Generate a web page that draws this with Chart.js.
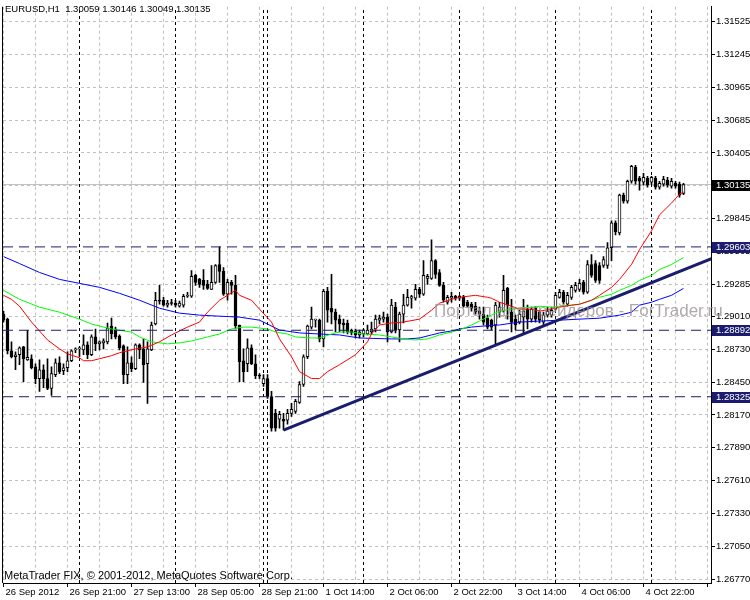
<!DOCTYPE html>
<html><head><meta charset="utf-8">
<script src="https://cdn.jsdelivr.net/npm/chart.js@4.4.0/dist/chart.umd.min.js"></script>
<style>html,body{margin:0;padding:0;background:#fff;overflow:hidden}canvas{display:block}</style>
</head><body><canvas id="c" width="750" height="600"></canvas>
<script>
const symbolTitle = 'EURUSD,H1  1.30059 1.30146 1.30049 1.30135';
const copyright = 'MetaTrader FIX, \u00a9 2001-2012, MetaQuotes Software Corp.';
const watermark = 'Портал для трейдеров - ForTrader.ru';
const timeLabels = ['26 Sep 2012','26 Sep 21:00','27 Sep 13:00','28 Sep 05:00','28 Sep 21:00','1 Oct 14:00','2 Oct 06:00','2 Oct 22:00','3 Oct 14:00','4 Oct 06:00','4 Oct 22:00'];
const priceTicks = [1.26770,1.27050,1.27330,1.27610,1.27890,1.28170,1.28450,1.28730,1.29010,1.29285,1.29565,1.29845,1.30125,1.30405,1.30685,1.30965,1.31245,1.31525];

const open = [1.29029,1.28987,1.28717,1.28666,1.28683,1.28750,1.28640,1.28649,1.28581,1.28480,1.28555,1.28480,1.28395,1.28514,1.28615,1.28547,1.28572,1.28632,1.28725,1.28733,
1.28725,1.28768,1.28683,1.28835,1.28776,1.28784,1.28793,1.28928,1.28903,1.28843,1.28759,1.28514,1.28615,1.28564,1.28768,1.28733,1.28606,1.28725,1.28945,1.29148,
1.29148,1.29106,1.29123,1.29123,1.29097,1.29106,1.29182,1.29182,1.29360,1.29326,1.29317,1.29283,1.29241,1.29300,1.29453,1.29394,1.29199,1.29300,1.29275,1.28937,
1.28632,1.28606,1.28742,1.28606,1.28505,1.28437,1.28480,1.28327,1.28183,1.28133,1.28133,1.28124,1.28183,1.28200,1.28277,1.28429,1.28666,1.28919,1.28978,1.28978,
1.28818,1.29224,1.29080,1.29046,1.28987,1.28954,1.28954,1.28894,1.28886,1.28852,1.28860,1.28860,1.28877,1.28903,1.28978,1.28987,1.29004,1.28877,1.29089,1.28894,
1.29029,1.29106,1.29165,1.29165,1.29241,1.29199,1.29334,1.29334,1.29486,1.29385,1.29275,1.29131,1.29165,1.29182,1.29165,1.29173,1.29131,1.29114,1.29097,1.29055,
1.29029,1.28995,1.28978,1.28937,1.29046,1.29055,1.29249,1.29046,1.28987,1.28962,1.29004,1.29072,1.28987,1.29080,1.29046,1.28962,1.29021,1.29021,1.29072,1.29173,
1.29216,1.29114,1.29173,1.29232,1.29241,1.29300,1.29216,1.29453,1.29461,1.29444,1.29444,1.29444,1.29596,1.29808,1.29723,1.30045,1.29994,1.30163,1.30281,1.30189,
1.30155,1.30189,1.30155,1.30189,1.30112,1.30138,1.30172,1.30121,1.30146,1.30138,1.30059];
const high = [1.29055,1.28995,1.28793,1.28708,1.28750,1.28755,1.28892,1.28683,1.28606,1.28640,1.28598,1.28649,1.28581,1.28649,1.28666,1.28606,1.28708,1.28725,1.28742,1.28750,
1.28852,1.28793,1.28852,1.28903,1.28801,1.28818,1.28954,1.28995,1.28919,1.28852,1.28768,1.28750,1.28666,1.28776,1.28776,1.28818,1.28793,1.28962,1.29216,1.29275,
1.29173,1.29148,1.29156,1.29148,1.29140,1.29199,1.29216,1.29402,1.29368,1.29334,1.29410,1.29317,1.29444,1.29453,1.29603,1.29427,1.29326,1.29317,1.29360,1.28937,
1.28733,1.28818,1.28768,1.28683,1.28522,1.28514,1.28514,1.28370,1.28217,1.28200,1.28183,1.28217,1.28268,1.28302,1.28454,1.28683,1.28937,1.29089,1.28987,1.28987,
1.29241,1.29258,1.29368,1.29072,1.29021,1.28987,1.28978,1.28903,1.28903,1.28894,1.28903,1.28937,1.28962,1.29021,1.29021,1.29046,1.29029,1.29156,1.29131,1.29046,
1.29199,1.29241,1.29190,1.29283,1.29258,1.29486,1.29368,1.29664,1.29495,1.29410,1.29300,1.29190,1.29216,1.29190,1.29190,1.29190,1.29148,1.29131,1.29131,1.29089,
1.29089,1.29021,1.28987,1.29131,1.29131,1.29360,1.29258,1.29156,1.29021,1.29063,1.29156,1.29106,1.29089,1.29097,1.29063,1.29046,1.29089,1.29089,1.29216,1.29241,
1.29232,1.29216,1.29275,1.29300,1.29326,1.29317,1.29486,1.29537,1.29486,1.29469,1.29520,1.29639,1.29825,1.29825,1.30054,1.30062,1.30172,1.30298,1.30298,1.30206,
1.30231,1.30206,1.30206,1.30206,1.30163,1.30206,1.30197,1.30189,1.30163,1.30155,1.30146];
const low = [1.28962,1.28691,1.28657,1.28555,1.28598,1.28454,1.28635,1.28563,1.28437,1.28370,1.28403,1.28386,1.28336,1.28496,1.28522,1.28514,1.28539,1.28623,1.28700,1.28666,
1.28683,1.28649,1.28675,1.28717,1.28725,1.28733,1.28776,1.28818,1.28818,1.28725,1.28437,1.28437,1.28539,1.28555,1.28649,1.28446,1.28268,1.28717,1.28937,1.29114,
1.29097,1.29089,1.29106,1.29089,1.29089,1.29089,1.29173,1.29173,1.29275,1.29258,1.29241,1.29241,1.29241,1.29292,1.29300,1.29190,1.29148,1.29199,1.28903,1.28454,
1.28454,1.28539,1.28598,1.28480,1.28480,1.28412,1.28310,1.28031,1.28031,1.28057,1.28040,1.28090,1.28158,1.28183,1.28268,1.28412,1.28649,1.28903,1.28919,1.28793,
1.28750,1.28962,1.28945,1.28877,1.28877,1.28869,1.28860,1.28852,1.28827,1.28827,1.28835,1.28852,1.28860,1.28877,1.28945,1.28962,1.28793,1.28869,1.28869,1.28793,
1.28954,1.29097,1.29080,1.29148,1.29173,1.29190,1.29283,1.29326,1.29334,1.29266,1.29131,1.29114,1.29131,1.29148,1.29148,1.29089,1.29089,1.29055,1.29029,1.28987,
1.28937,1.28903,1.28894,1.28768,1.29004,1.29046,1.28987,1.28877,1.28894,1.28945,1.28860,1.28903,1.28962,1.28962,1.28954,1.28937,1.29004,1.29004,1.29063,1.29165,
1.29114,1.29097,1.29156,1.29216,1.29224,1.29199,1.29207,1.29343,1.29300,1.29292,1.29427,1.29419,1.29486,1.29706,1.29706,1.29977,1.29977,1.30146,1.30138,1.30087,
1.30129,1.30112,1.30138,1.30095,1.30095,1.30121,1.30112,1.30104,1.30104,1.30028,1.30049];
const close = [1.28978,1.28717,1.28666,1.28683,1.28742,1.28649,1.28660,1.28572,1.28480,1.28555,1.28480,1.28395,1.28522,1.28615,1.28539,1.28572,1.28632,1.28717,1.28733,1.28738,
1.28768,1.28683,1.28835,1.28776,1.28793,1.28801,1.28911,1.28860,1.28835,1.28742,1.28514,1.28615,1.28564,1.28768,1.28725,1.28598,1.28733,1.28937,1.29148,1.29140,
1.29106,1.29123,1.29120,1.29106,1.29123,1.29182,1.29190,1.29351,1.29300,1.29283,1.29275,1.29249,1.29300,1.29444,1.29394,1.29199,1.29300,1.29275,1.28928,1.28623,
1.28539,1.28742,1.28606,1.28505,1.28500,1.28480,1.28327,1.28057,1.28057,1.28175,1.28116,1.28183,1.28217,1.28285,1.28429,1.28666,1.28928,1.28987,1.28982,1.28818,
1.29224,1.29063,1.29046,1.28978,1.28945,1.28937,1.28877,1.28869,1.28852,1.28877,1.28894,1.28894,1.28903,1.28987,1.28995,1.29004,1.28877,1.29106,1.28894,1.29029,
1.29106,1.29173,1.29180,1.29241,1.29199,1.29360,1.29351,1.29486,1.29368,1.29275,1.29148,1.29173,1.29182,1.29165,1.29182,1.29097,1.29097,1.29080,1.29046,1.29029,
1.28962,1.28919,1.28919,1.29106,1.29089,1.29232,1.29106,1.28962,1.28937,1.29029,1.29055,1.28987,1.29072,1.28987,1.28978,1.29021,1.29055,1.29063,1.29190,1.29216,
1.29131,1.29190,1.29258,1.29275,1.29292,1.29216,1.29453,1.29360,1.29317,1.29317,1.29495,1.29596,1.29808,1.29732,1.30045,1.29994,1.30163,1.30290,1.30163,1.30163,
1.30197,1.30129,1.30197,1.30112,1.30146,1.30180,1.30129,1.30163,1.30121,1.30045,1.30135];

const maRedBars = [0,2,4,7,9,11,14,16,19,20,22,24,27,29,33,36,39,42,46,49,51,54,58,59,62,64,67,69,72,74,77,79,81,84,88,91,92,94,97,100,104,107,109,112,114,118,121,122,124,127,129,132,134,137,139,142,144,147,149,152,154,157,159,162,164,167,169,170];
const maRedValues = [1.29190,1.29156,1.29097,1.28962,1.28886,1.28809,1.28733,1.28691,1.28657,1.28632,1.28632,1.28649,1.28675,1.28700,1.28733,1.28750,1.28793,1.28852,1.28919,1.28962,1.29046,1.29148,1.29232,1.29190,1.29148,1.29072,1.28962,1.28818,1.28666,1.28539,1.28480,1.28480,1.28539,1.28598,1.28683,1.28793,1.28860,1.28937,1.28954,1.28962,1.28987,1.29063,1.29123,1.29156,1.29173,1.29190,1.29173,1.29165,1.29131,1.29097,1.29072,1.29072,1.29055,1.29072,1.29089,1.29106,1.29114,1.29148,1.29190,1.29258,1.29326,1.29453,1.29580,1.29740,1.29876,1.29977,1.30053,1.30070];
const maGreenBars = [0,4,9,14,19,22,24,27,30,32,34,37,41,44,47,51,54,57,60,62,66,68,71,73,77,79,82,84,87,90,94,97,100,103,106,109,112,114,117,119,122,124,127,129,132,134,137,139,142,144,147,149,152,154,157,159,162,164,167,170];
const maGreenValues = [1.29233,1.29156,1.29089,1.29046,1.28987,1.28945,1.28928,1.28903,1.28886,1.28877,1.28835,1.28793,1.28776,1.28784,1.28801,1.28835,1.28860,1.28903,1.28919,1.28919,1.28903,1.28877,1.28860,1.28835,1.28826,1.28826,1.28860,1.28877,1.28877,1.28860,1.28852,1.28835,1.28818,1.28809,1.28818,1.28852,1.28877,1.28894,1.28937,1.28970,1.29021,1.29055,1.29072,1.29080,1.29089,1.29097,1.29089,1.29097,1.29106,1.29114,1.29148,1.29173,1.29199,1.29232,1.29275,1.29317,1.29360,1.29410,1.29453,1.29512];
const maBlueBars = [0,4,9,14,19,24,29,34,39,44,49,54,59,64,69,74,79,84,89,97,101,104,107,109,112,114,117,120,124,129,134,139,144,149,154,157,159,162,164,167,170];
const maBlueValues = [1.29520,1.29461,1.29385,1.29326,1.29292,1.29258,1.29207,1.29148,1.29080,1.29038,1.29021,1.29012,1.29004,1.28978,1.28894,1.28869,1.28860,1.28852,1.28826,1.28818,1.28818,1.28826,1.28852,1.28869,1.28886,1.28903,1.28919,1.28928,1.28937,1.28962,1.28970,1.28978,1.28987,1.28995,1.29021,1.29046,1.29106,1.29131,1.29156,1.29190,1.29249];

const hLevels = [1.29603, 1.28892, 1.28325];
const currentPrice = 1.30135;
const trendBars = [70, 177];
const trendValues = [1.28040, 1.29503];
const separatorBars = [19, 43, 65, 66, 90, 114, 138, 162];

const NAVY = '#1c1c6e';
const yMin = 1.26736, yMax = 1.31652;
const xMin = -0.125, xMax = 176.875;
const FONT = '"Liberation Sans", Arial, sans-serif';

const pts = (bars, vals) => bars.map((b, i) => ({x: b, y: vals[i]}));
const bodies = open.map((o, i) => ({x: i, y: [o, close[i]]}));
const wicks = low.map((l, i) => ({x: i, y: [l, high[i]]}));

const datasets = [];
datasets.push({type:'line', data:[{x:xMin,y:currentPrice},{x:xMax,y:currentPrice}], borderColor:'#c0c0c0', borderWidth:1, pointRadius:0, order:30});
separatorBars.forEach(b => datasets.push({type:'line', data:[{x:b,y:yMin},{x:b,y:yMax}], borderColor:'#000', borderWidth:1, borderDash:[3,3], pointRadius:0, order:29}));
datasets.push({type:'bar', data:wicks, backgroundColor:'#000', borderWidth:0, barThickness:1, grouped:false, order:21});
datasets.push({type:'bar', data:bodies, backgroundColor:(c)=>{const r=c.raw; return (r && r.y[1] >= r.y[0]) ? '#ffffff' : '#000000';}, borderColor:'#000', borderWidth:1, borderSkipped:false, barThickness:3, minBarLength:1, grouped:false, order:20});
datasets.push({type:'line', data:pts(maBlueBars, maBlueValues), borderColor:'#0000ff', borderWidth:1, pointRadius:0, tension:0, order:12});
datasets.push({type:'line', data:pts(maGreenBars, maGreenValues), borderColor:'#00ff00', borderWidth:1, pointRadius:0, tension:0, order:11});
datasets.push({type:'line', data:pts(maRedBars, maRedValues), borderColor:'#ff0000', borderWidth:1, pointRadius:0, tension:0, order:10});
hLevels.forEach(v => datasets.push({type:'line', data:[{x:xMin,y:v},{x:xMax,y:v}], borderColor:NAVY, borderWidth:1, borderDash:[10,6], pointRadius:0, order:5}));
datasets.push({type:'line', data:pts(trendBars, trendValues), borderColor:NAVY, borderWidth:3, pointRadius:0, order:4});

const overlay = {
  id:'overlay',
  afterDraw(chart){
    const {ctx, chartArea:a, scales:{y}} = chart;
    ctx.save();
    ctx.fillStyle = '#000';
    ctx.fillRect(a.left - 1, a.top, 1, a.bottom - a.top);
    ctx.textAlign = 'left';
    ctx.textBaseline = 'alphabetic';
    ctx.font = '9.5px ' + FONT;
    ctx.fillText(symbolTitle, 5, 12);
    ctx.font = '11px ' + FONT;
    ctx.fillText(copyright, 4, 579);
    ctx.font = '17px ' + FONT;
    ctx.fillStyle = 'rgba(150,140,140,0.75)';
    ctx.fillText(watermark, 434, 316);
    const boxes = [[currentPrice,'#000000']].concat(hLevels.map(v => [v, NAVY]));
    ctx.font = '9.5px ' + FONT;
    ctx.textBaseline = 'middle';
    boxes.forEach(([p, col]) => {
      const py = Math.round(y.getPixelForValue(p));
      ctx.fillStyle = col;
      ctx.fillRect(a.right + 1, py - 5, 39, 11);
      ctx.fillStyle = '#fff';
      ctx.fillText(p.toFixed(5), a.right + 5, py + 0.5);
    });
    ctx.restore();
  }
};

new Chart(document.getElementById('c'), {
  type:'bar',
  data:{datasets},
  options:{
    responsive:false, animation:false, events:[],
    layout:{padding:{left:3, top:2, right:0, bottom:0}},
    plugins:{legend:{display:false}, tooltip:{enabled:false}},
    scales:{
      x:{type:'linear', min:xMin, max:xMax, offset:false,
        afterBuildTicks:(s)=>{const t=[]; for(let b=0;b<=176;b+=8) t.push({value:b}); s.ticks=t;},
        afterFit:(s)=>{s.height=17;},
        ticks:{autoSkip:false, maxRotation:0, minRotation:0, align:'start', padding:0, labelOffset:2, color:'#000', font:{family:FONT, size:9.5},
          callback:(v)=> (v % 16 === 0 && timeLabels[v/16]) ? timeLabels[v/16] : ''},
        grid:{offset:false, color:'#c0c0c0', lineWidth:1, tickLength:4,
          tickColor:(c)=> (c.tick && c.tick.value % 16 === 0) ? '#000' : 'rgba(0,0,0,0)'},
        border:{display:true, color:'#000', width:1, dash:[3,3]}
      },
      y:{type:'linear', position:'right', min:yMin, max:yMax,
        afterBuildTicks:(s)=>{s.ticks = priceTicks.map(v=>({value:v}));},
        afterFit:(s)=>{s.width=39;},
        ticks:{autoSkip:false, padding:1, color:'#000', font:{family:FONT, size:9.5}, callback:(v)=>v.toFixed(5)},
        grid:{color:'#c0c0c0', lineWidth:1, tickLength:4, tickColor:'#000'},
        border:{display:true, color:'#000', width:1, dash:[3,3]}
      }
    }
  },
  plugins:[overlay]
});
</script></body></html>
